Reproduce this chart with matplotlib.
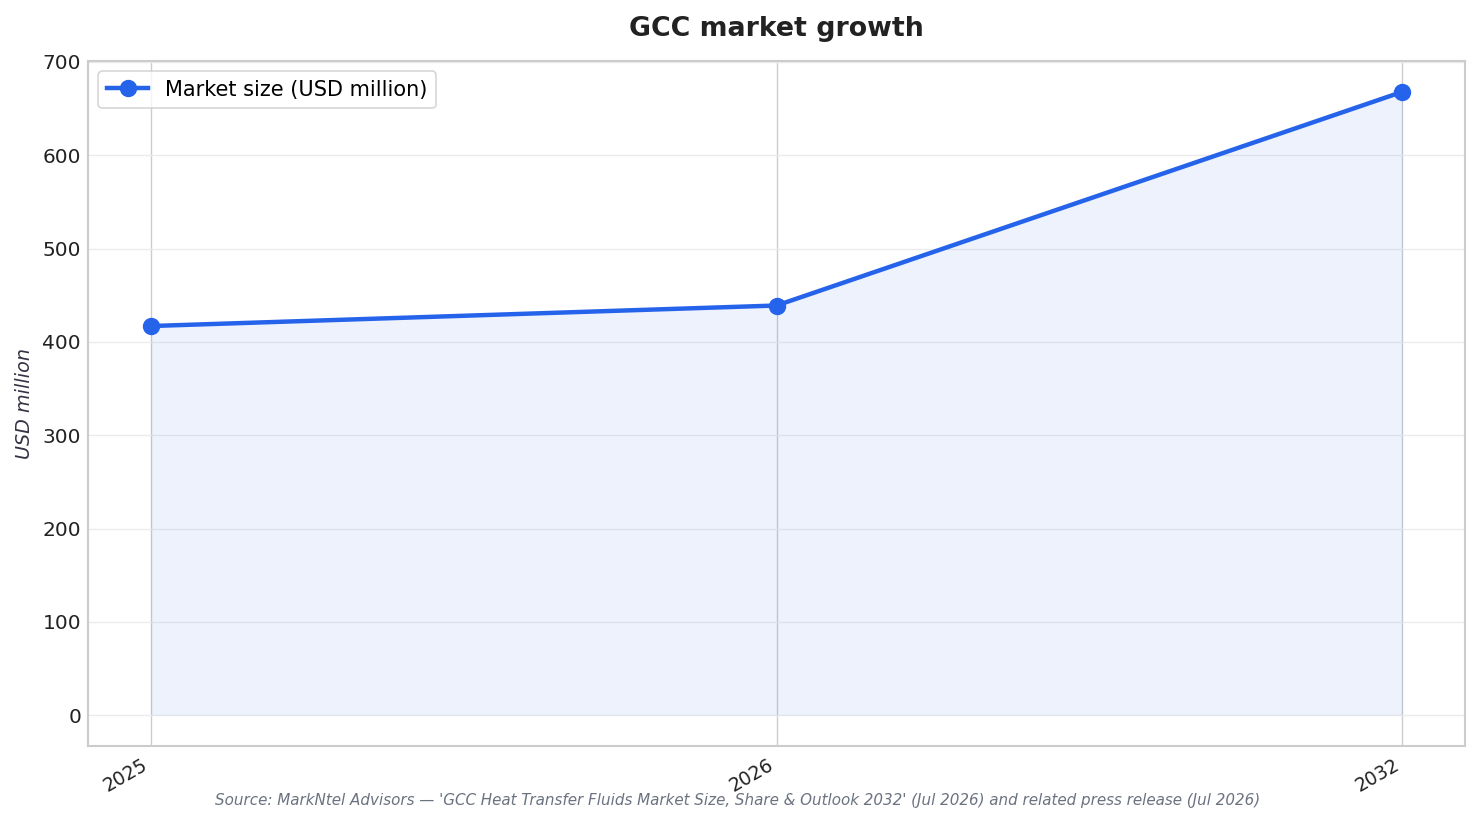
import matplotlib
matplotlib.use("Agg")
import matplotlib.pyplot as plt

years = ["2025", "2026", "2032"]
market_size = [417, 439, 668]

line_color = "#2563eb"

fig = plt.figure(figsize=(14.81, 8.24), dpi=100)
ax = fig.add_axes([88/1481, 1-746/824, (1465-88)/1481, (746-61)/824])

x = list(range(len(years)))
ax.fill_between(x, market_size, 0, color=line_color, alpha=0.08, linewidth=0)
ax.plot(x, market_size, color=line_color, linewidth=3.2, marker="o", markersize=11.5,
        label="Market size (USD million)", zorder=3)

ax.set_xlim(-0.1, 2.1)
ax.set_ylim(-33, 701)
ax.set_xticks(x)
ax.set_xticklabels(years, rotation=30, ha="right", fontsize=13.5, color="#222222")
ax.set_yticks(range(0, 701, 100))
ax.tick_params(axis="y", labelsize=14.5, colors="#222222", length=0, pad=5)
ax.tick_params(axis="x", length=0, pad=7)

ax.grid(axis="y", color="#ebebeb", linewidth=1)
ax.grid(axis="x", color="#cccccc", linewidth=1)
ax.set_axisbelow(True)
for s in ax.spines.values():
    s.set_color("#cccccc")
    s.set_linewidth(1.5)

ax.set_ylabel("USD million", fontsize=13.8, style="italic", color="#333344", labelpad=6)
ax.set_title("GCC market growth", fontsize=19.3, fontweight="bold", color="#222222", pad=18)

leg = ax.legend(loc="upper left", fontsize=15, frameon=True, fancybox=True,
                handlelength=2.0, borderaxespad=0.5)
leg.get_frame().set_edgecolor("#cccccc")
leg.get_frame().set_linewidth(1.2)

fig.text(738/1481, 1-801/824,
         "Source: MarkNtel Advisors — 'GCC Heat Transfer Fluids Market Size, Share & Outlook 2032' (Jul 2026) and related press release (Jul 2026)",
         ha="center", va="center", fontsize=10.9, style="italic", color="#6b7280")

fig.savefig("out.png", dpi=100)
